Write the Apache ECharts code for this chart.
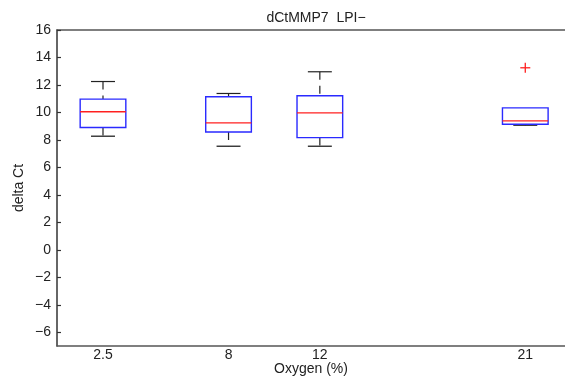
<!DOCTYPE html>
<html>
<head>
<meta charset="utf-8">
<script src="https://cdn.jsdelivr.net/npm/echarts@6/dist/echarts.min.js"></script>
<style>html,body{margin:0;padding:0;background:#fff}#c{width:565px;height:379px}</style>
</head>
<body>
<div id="c"></div>
<script>
// Data
var categories = [2.5, 8, 12, 21];
var lowerWhisker = [8.27, 7.54, 7.54, 9.07];
var q1 = [8.90, 8.58, 8.17, 9.14];
var medians = [10.05, 9.24, 9.97, 9.39];
var q3 = [10.97, 11.14, 11.21, 10.33];
var upperWhisker = [12.25, 11.38, 12.96, 10.33];
var outlierX = [21];
var outlierY = [13.25];
var yTicks = [-6, -4, -2, 0, 2, 4, 6, 8, 10, 12, 14, 16];

var boxData = categories.map(function (c, i) {
  return [c, lowerWhisker[i], q1[i], medians[i], q3[i], upperWhisker[i]];
});
var outData = outlierX.map(function (x, i) { return [x, outlierY[i]]; });

var FONT = 'Liberation Sans, Arial, Helvetica, sans-serif';
var chart = echarts.init(document.getElementById('c'), null, {renderer: 'canvas'});

function boxRender(params, api) {
  var x = api.value(0);
  var pLw = api.coord([x, api.value(1)]);
  var pQ1 = api.coord([x, api.value(2)]);
  var pMed = api.coord([x, api.value(3)]);
  var pQ3 = api.coord([x, api.value(4)]);
  var pUw = api.coord([x, api.value(5)]);
  var bw = api.size([2, 0])[0];
  var cw = api.size([1.05, 0])[0];
  var cx = pMed[0];
  var whisk = {stroke: '#222', lineWidth: 1.2, lineDash: [8, 6]};
  var cap = {stroke: '#222', lineWidth: 1.2};
  var children = [];
  if (pUw[1] < pQ3[1] - 0.5) {
    children.push({type: 'line', shape: {x1: cx, y1: pUw[1], x2: cx, y2: pQ3[1]}, style: whisk});
    children.push({type: 'line', shape: {x1: cx - cw / 2, y1: pUw[1], x2: cx + cw / 2, y2: pUw[1]}, style: cap});
  }
  if (pLw[1] > pQ1[1] + 0.5) {
    children.push({type: 'line', shape: {x1: cx, y1: pQ1[1], x2: cx, y2: pLw[1]}, style: whisk});
  }
  children.push({type: 'line', shape: {x1: cx - cw / 2, y1: pLw[1], x2: cx + cw / 2, y2: pLw[1]}, style: {stroke: '#222', lineWidth: 1.3}});
  children.push({type: 'rect', shape: {x: cx - bw / 2, y: pQ3[1], width: bw, height: pQ1[1] - pQ3[1]},
    style: {fill: 'none', stroke: '#2a2aff', lineWidth: 1.4}});
  children.push({type: 'line', shape: {x1: cx - bw / 2, y1: pMed[1], x2: cx + bw / 2, y2: pMed[1]},
    style: {stroke: '#ff2020', lineWidth: 1.3}});
  return {type: 'group', children: children};
}

function outRender(params, api) {
  var p = api.coord([api.value(0), api.value(1)]);
  var s = 5;
  return {type: 'group', children: [
    {type: 'line', shape: {x1: p[0] - s, y1: p[1], x2: p[0] + s, y2: p[1]}, style: {stroke: '#ff2020', lineWidth: 1.3}},
    {type: 'line', shape: {x1: p[0], y1: p[1] - s, x2: p[0], y2: p[1] + s}, style: {stroke: '#ff2020', lineWidth: 1.3}}
  ]};
}

var option = {
  animation: false,
  backgroundColor: '#fff',
  title: {
    text: 'dCtMMP7  LPI\u2212',
    left: 311, top: 6, textAlign: 'center',
    textStyle: {fontFamily: FONT, fontSize: 14, fontWeight: 'normal', color: '#222'}
  },
  grid: {left: 57, right: 0, top: 30, bottom: 33, containLabel: false, outerBoundsMode: 'none'},
  xAxis: [{
    type: 'value', min: 0.485, max: 22.74, position: 'bottom',
    name: 'Oxygen (%)', nameLocation: 'middle', nameGap: 16, nameMoveOverlap: false,
    nameTextStyle: {fontFamily: FONT, fontSize: 14, color: '#222'},
    axisLine: {show: true, onZero: false, lineStyle: {color: '#555', width: 1.5}},
    axisTick: {show: false},
    axisLabel: {customValues: categories, fontFamily: FONT, fontSize: 14, color: '#222', margin: 2},
    splitLine: {show: false}
  }, {
    type: 'value', min: 0.485, max: 22.74, position: 'top',
    axisLine: {show: true, onZero: false, lineStyle: {color: '#555', width: 1.5}},
    axisTick: {show: false}, axisLabel: {show: false}, splitLine: {show: false}
  }],
  yAxis: {
    type: 'value', min: -7, max: 16,
    name: 'delta Ct', nameLocation: 'middle', nameGap: 31, nameRotate: 90, nameMoveOverlap: false,
    nameTextStyle: {fontFamily: FONT, fontSize: 14, color: '#222'},
    axisLine: {show: true, onZero: false, lineStyle: {color: '#333', width: 1.5}},
    axisTick: {show: true, inside: true, length: 4, customValues: yTicks, lineStyle: {color: '#333', width: 1.2}},
    axisLabel: {customValues: yTicks, fontFamily: FONT, fontSize: 14, color: '#222', margin: 6,
      formatter: function (v) { return v < 0 ? '\u2212' + Math.abs(v) : String(v); }},
    splitLine: {show: false}
  },
  series: [
    {type: 'custom', renderItem: boxRender, data: boxData, encode: {x: 0, y: [1, 2, 3, 4, 5]}, clip: false},
    {type: 'custom', renderItem: outRender, data: outData, encode: {x: 0, y: 1}}
  ]
};
chart.setOption(option);
</script>
</body>
</html>
